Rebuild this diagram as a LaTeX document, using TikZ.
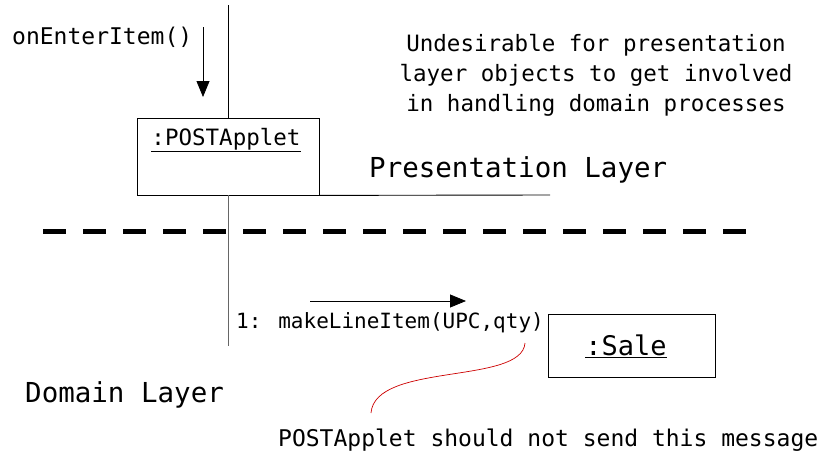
\documentclass[tikz,border=0pt]{standalone}
\usepackage{fontspec}
\setmainfont{DejaVu Sans Mono}
\usetikzlibrary{arrows.meta}
\begin{document}
\begin{tikzpicture}[x=1pt,y=-1pt,
  txt/.style={inner sep=0pt,anchor=base west},
  obj/.style={draw,line width=0.8pt,minimum width=#1,inner sep=0pt},
  msg/.style={line width=0.8pt,-{Triangle[length=16pt,width=13pt]}},
  life/.style={line width=0.9pt}]
\useasboundingbox (0,0) rectangle (827,455);
% objects
\node[obj=182pt,minimum height=77pt] (pa) at (228,156.5) {};
\node[font=\fontsize{22.5}{26}\selectfont,inner sep=0pt] (palab) at (226,140) {\underline{:POSTApplet}};
\node[obj=167pt,minimum height=63pt] (sale) at (631.5,346) {};
\node[font=\fontsize{27}{30}\selectfont,inner sep=0pt] (salelab) at (626,346) {\underline{:Sale}};
% lifelines
\coordinate (ltop) at (228,5);
\coordinate (lbot) at (228,346);
\draw[life] (ltop) -- (pa.north);
\draw[life,gray!80!black] (pa.south) -- (lbot);
\coordinate (plend) at (550,195);
\draw[life] (pa.south east) -- (plend);
% dashed layer separator
\coordinate (dl) at (43,231);
\coordinate (dr) at (757,231);
\draw[line width=5pt,dash pattern=on 23pt off 17pt] (dl) -- (dr);
% texts
\node[txt,font=\fontsize{23}{26}\selectfont] (oei) at (12,44) {onEnterItem()};
\coordinate (a1s) at (203,27);
\coordinate (a1e) at (203,97);
\draw[msg] (a1s) -- (a1e);
\node[align=center,font=\fontsize{22.5}{30}\selectfont,inner sep=0pt] (und) at (596,75)
  {Undesirable for presentation\\layer objects to get involved\\in handling domain processes};
\node[txt,font=\fontsize{27.5}{30}\selectfont] (pl) at (369,177) {Presentation Layer};
\node[txt,font=\fontsize{27.5}{30}\selectfont] (dlay) at (25,402) {Domain Layer};
\node[txt,font=\fontsize{21}{24}\selectfont] (mli) at (236,328) {1: makeLineItem(UPC,qty)};
\coordinate (a2s) at (310,301);
\coordinate (a2e) at (466,301);
\draw[msg] (a2s) -- (a2e);
\node[txt,font=\fontsize{23}{26}\selectfont] (note) at (278,446) {POSTApplet should not send this message};
\coordinate (cs) at (525,343);
\coordinate (ce) at (371,413);
\draw[red!80!black,line width=0.7pt] (cs) .. controls (522,385) and (375,362) .. (ce);
\end{tikzpicture}
\end{document}
